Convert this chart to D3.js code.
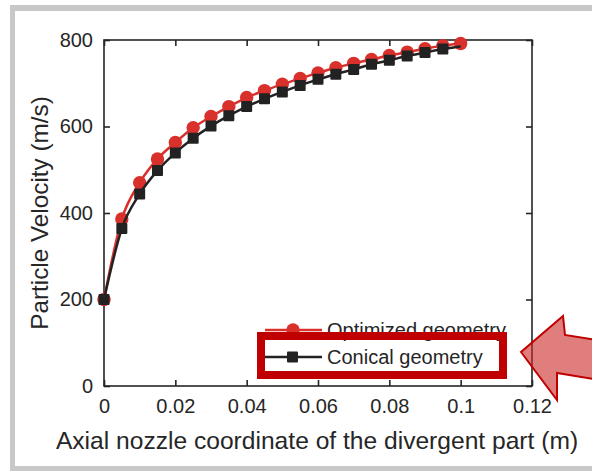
<!DOCTYPE html>
<html><head><meta charset="utf-8">
<script src="https://cdn.jsdelivr.net/npm/d3@7"></script>
<style>body{margin:0;background:#fff}svg{display:block}text{font-family:"Liberation Sans",Arial,sans-serif;fill:#262626}</style>
</head><body>
<script>
const xValues = [0,0.005,0.01,0.015,0.02,0.025,0.03,0.035,0.04,0.045,0.05,0.055,0.06,0.065,0.07,0.075,0.08,0.085,0.09,0.095,0.1];
const optimized = [200,386,470,525,563,597,623,646,667,683,698,711,724,736,746,755,764,772,780,787,792];
const conical = [200,364,444,498,539,573,601,625,646,664,680,695,709,721,732,744,753,763,771,779,785];
const xTicks = [0,0.02,0.04,0.06,0.08,0.1,0.12];
const yTicks = [0,200,400,600,800];
const seriesNames = ["Optimized geometry","Conical geometry"];

const W=592,H=471;
const svg=d3.select("body").append("svg").attr("width",W).attr("height",H);
// gray frame
svg.append("rect").attr("x",10).attr("y",5).attr("width",W-10).attr("height",6).attr("fill","#c8c8c8");
svg.append("rect").attr("x",10).attr("y",5).attr("width",5).attr("height",H-5).attr("fill","#c8c8c8");
svg.append("rect").attr("x",10).attr("y",466).attr("width",W-10).attr("height",5).attr("fill","#c8c8c8");

const L=104,R=532,T=40,B=386;
const x=d3.scaleLinear().domain([0,0.12]).range([L,R]);
const y=d3.scaleLinear().domain([0,800]).range([B,T]);
const axisCol="#262626";

// axes
const fmt=d=>d===0?"0":String(d);
const gx=svg.append("g").attr("transform",`translate(0,${B})`).call(d3.axisBottom(x).tickValues(xTicks).tickSize(-6).tickPadding(13).tickFormat(fmt));
const gxt=svg.append("g").attr("transform",`translate(0,${T})`).call(d3.axisTop(x).tickValues(xTicks).tickSize(-6).tickFormat(""));
const gy=svg.append("g").attr("transform",`translate(${L},0)`).call(d3.axisLeft(y).tickValues(yTicks).tickSize(-6).tickPadding(11));
const gyr=svg.append("g").attr("transform",`translate(${R},0)`).call(d3.axisRight(y).tickValues(yTicks).tickSize(-6).tickFormat(""));
[gx,gxt,gy,gyr].forEach(g=>{
  g.selectAll("path").remove();
  g.selectAll("line").attr("stroke",axisCol).attr("stroke-width",1.6);
  g.selectAll("text").style("font-size","20px").attr("fill","#262626");
});
svg.append("rect").attr("x",L).attr("y",T).attr("width",R-L).attr("height",B-T).attr("fill","none").attr("stroke",axisCol).attr("stroke-width",1.6);

// labels
svg.append("text").attr("x",(L+R)/2-1).attr("y",449).attr("text-anchor","middle").style("font-size","24.6px").text("Axial nozzle coordinate of the divergent part (m)");
svg.append("text").attr("transform",`translate(48,${(T+B)/2}) rotate(-90)`).attr("text-anchor","middle").style("font-size","24.3px").text("Particle Velocity (m/s)");

const line=d3.line().x((d,i)=>x(xValues[i])).y(d=>y(d)).curve(d3.curveMonotoneX);
const red="#d9302c", blk="#222222";
svg.append("path").attr("d",line(optimized)).attr("fill","none").attr("stroke",red).attr("stroke-width",2.5);
svg.selectAll(".c").data(optimized).join("circle").attr("cx",(d,i)=>x(xValues[i])).attr("cy",d=>y(d)).attr("r",6.7).attr("fill",red);
svg.append("path").attr("d",line(conical)).attr("fill","none").attr("stroke",blk).attr("stroke-width",2.5);
svg.selectAll(".s").data(conical.slice(0,-1)).join("rect").attr("x",(d,i)=>x(xValues[i])-5.5).attr("y",d=>y(d)-5.5).attr("width",11).attr("height",11).attr("rx",1).attr("fill",blk);

// legend
const lg=svg.append("g");
lg.append("line").attr("x1",265).attr("x2",322).attr("y1",330).attr("y2",330).attr("stroke",red).attr("stroke-width",2.5);
lg.append("circle").attr("cx",293).attr("cy",330).attr("r",6.7).attr("fill",red);
lg.append("text").attr("x",327).attr("y",337).style("font-size","20px").text(seriesNames[0]);
lg.append("line").attr("x1",265).attr("x2",322).attr("y1",357).attr("y2",357).attr("stroke",blk).attr("stroke-width",2.5);
lg.append("rect").attr("x",287).attr("y",351.5).attr("width",11).attr("height",11).attr("rx",1).attr("fill",blk);
lg.append("text").attr("x",327).attr("y",364).style("font-size","20px").text(seriesNames[1]);

// annotation box
svg.append("rect").attr("x",261).attr("y",336).attr("width",242).attr("height",39).attr("fill","none").attr("stroke","#c00000").attr("stroke-width",8);
// arrow
svg.append("path").attr("d","M521,352 L563,316 L565,335 L600,340.5 L600,380 L557,373 L557,400 Z")
  .attr("fill","rgba(204,40,40,0.6)").attr("stroke","#c00000").attr("stroke-width",2).attr("stroke-linejoin","miter");
</script>
</body></html>
